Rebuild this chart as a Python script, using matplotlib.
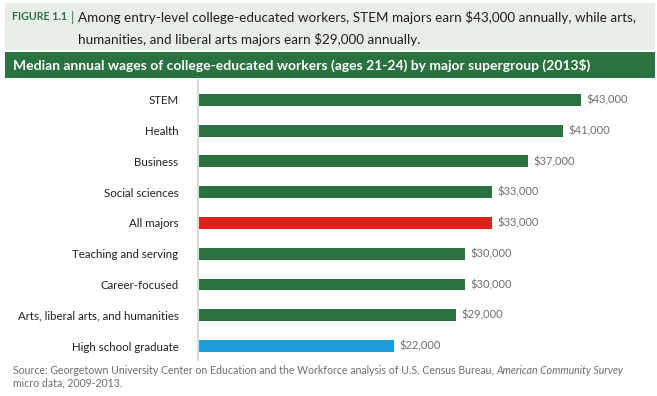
import matplotlib.pyplot as plt
from matplotlib.patches import Rectangle

categories = ["STEM", "Health", "Business", "Social sciences", "All majors",
              "Teaching and serving", "Career-focused",
              "Arts, liberal arts, and humanities", "High school graduate"]
wages = [43000, 41000, 37000, 33000, 33000, 30000, 30000, 29000, 22000]
value_labels = ["$43,000", "$41,000", "$37,000", "$33,000", "$33,000",
                "$30,000", "$30,000", "$29,000", "$22,000"]
bar_colors = ["#2b7241"] * 4 + ["#d9231b"] + ["#2b7241"] * 3 + ["#1e9ed8"]

plt.rcParams['font.family'] = ['Lato', 'DejaVu Sans']

W, H = 657, 396
fig = plt.figure(figsize=(W / 100, H / 100), dpi=100)


def fx(px):
    return px / W


def fy(py):
    return 1 - py / H


# header block
fig.patches.append(Rectangle((fx(5), fy(50)), fx(650), 47 / H, transform=fig.transFigure,
                             facecolor="#e9ede8", edgecolor="none", zorder=0))
fig.patches.append(Rectangle((fx(5), fy(78)), fx(650), 26 / H, transform=fig.transFigure,
                             facecolor="#2b7241", edgecolor="none", zorder=0))

fig.text(fx(12), fy(17), "FIGURE 1.1", color="#2b7241", fontsize=7.7,
         fontweight="bold", va="center")
fig.text(fx(71), fy(17), "|", color="#2b7241", fontsize=9.5, va="center")
fig.text(fx(78), fy(17), "Among entry-level college-educated workers, STEM majors earn $43,000 annually, while arts,",
         color="#231f20", fontsize=9.7, va="center")
fig.text(fx(78), fy(39), "humanities, and liberal arts majors earn $29,000 annually.",
         color="#231f20", fontsize=9.7, va="center")
fig.text(fx(13), fy(65), "Median annual wages of college-educated workers (ages 21-24) by major supergroup (2013$)",
         color="white", fontsize=10, fontweight="bold", va="center")

ax = fig.add_axes([fx(198), fy(360), fx(442), 280 / H])
y = list(range(len(categories)))
ax.barh(y, wages, height=0.39, color=bar_colors, zorder=2)
ax.set_xlim(0, 49600)
ax.set_ylim(8.455, -0.65)
for i, (w, lab) in enumerate(zip(wages, value_labels)):
    ax.text(w + 600, i, lab, va="center", ha="left", fontsize=8, color="#6d6e71")

ax.set_yticks(y)
ax.set_yticklabels(categories, fontsize=8.3, color="#231f20")
ax.tick_params(axis="y", length=0, pad=14)
ax.set_xticks([])
for s in ["top", "right", "bottom"]:
    ax.spines[s].set_visible(False)
ax.spines["left"].set_color("#d9d9d9")
ax.spines["left"].set_linewidth(1.5)

src = fig.text(fx(13), fy(370), "Source: Georgetown University Center on Education and the Workforce analysis of U.S. Census Bureau, ",
               color="#6d6e71", fontsize=7.6, va="center")
fig.canvas.draw()
bb = src.get_window_extent()
fig.text(bb.x1 / W, fy(370), "American Community Survey", color="#6d6e71", fontsize=7.6,
         style="italic", va="center")
fig.text(fx(13), fy(383), "micro data, 2009-2013.", color="#6d6e71", fontsize=7.6, va="center")

fig.savefig("out.png", dpi=100)
